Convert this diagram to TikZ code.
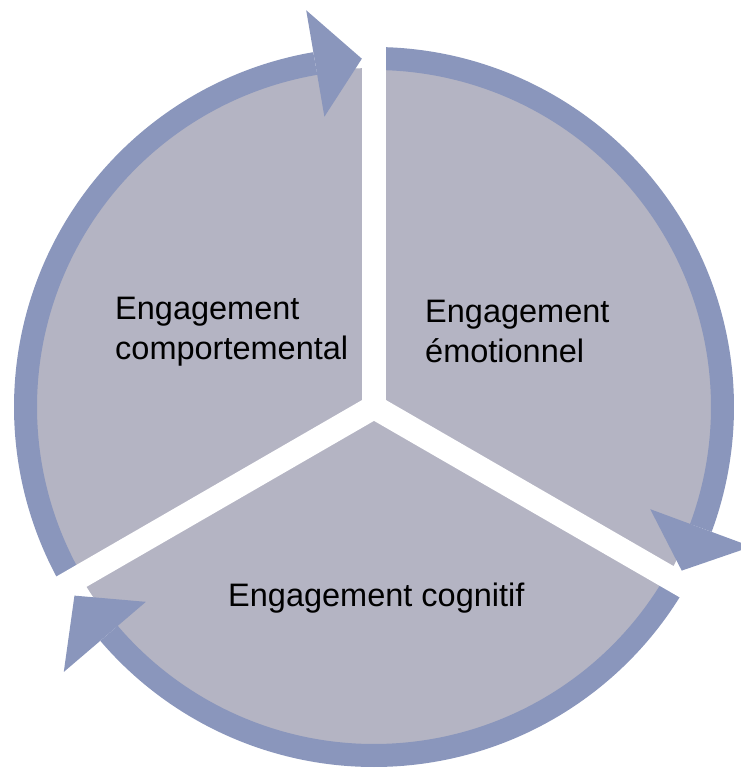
\documentclass[tikz,border=0pt]{standalone}
\usepackage{fontspec}
\setmainfont{Liberation Sans}
\usetikzlibrary{calc}
\definecolor{sectorgrey}{RGB}{180,180,195}
\definecolor{bandblue}{RGB}{138,150,188}

\begin{document}
\begin{tikzpicture}[x=1pt,y=1pt,
	band/.style={draw=bandblue,line width=23pt},
	tip/.style={fill=bandblue},
	gap/.style={draw=white,line width=24pt},
	label/.style={inner sep=0pt,anchor=base west,align=left,font=\fontsize{32.5}{40}\selectfont}]
	\useasboundingbox (0,0) rectangle (741,771);
	\coordinate (c) at (374,364);
	% grey disk
	\fill[sectorgrey] (c) circle (339);
	% bands
	\draw[band] ($(c)+(210:348.5)$) arc[start angle=210,end angle=99.7,radius=348.5];
	\draw[band] ($(c)+(90:348.5)$) arc[start angle=90,end angle=-20.3,radius=348.5];
	\draw[band] ($(c)+(-30:348.5)$) arc[start angle=-30,end angle=-139.5,radius=348.5];
	% gaps
	\draw[gap] (c)--($(c)+(90:380)$);
	\draw[gap] (c)--($(c)+(210:380)$);
	\draw[gap] (c)--($(c)+(330:380)$);
	% arrow heads
	\fill[tip] ($(c)+(99.7:294.5)$)--($(c)+(99.7:402.5)$)--($(c)+(92:348.5)$)--cycle;
	\fill[tip] ($(c)+(-20.3:294.5)$)--($(c)+(-20.3:402.5)$)--($(c)+(-28:348.5)$)--cycle;
	\fill[tip] ($(c)+(-139.5:300)$)--($(c)+(-139.5:408)$)--($(c)+(-147.8:354)$)--cycle;
	% texts
	\node[label] (behav) at (115,411) {Engagement\\comportemental};
	\node[label] (emot) at (425,408) {Engagement\\émotionnel};
	\node[label] (cogn) at (228,164) {Engagement cognitif};
\end{tikzpicture}
\end{document}
